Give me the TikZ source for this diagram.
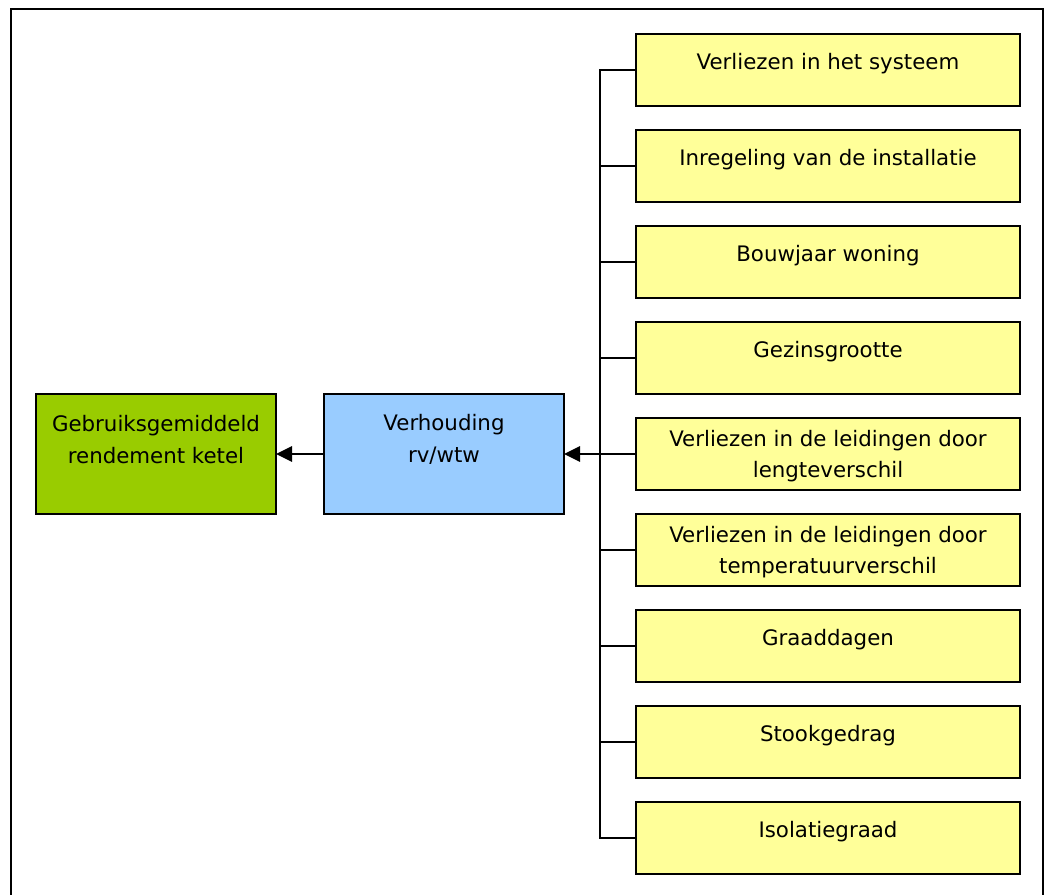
\documentclass[tikz,border=0pt]{standalone}
\usepackage{fontspec}
\setmainfont{DejaVu Sans}
\usetikzlibrary{arrows.meta}
\definecolor{ybox}{HTML}{FFFF99}
\definecolor{bbox}{HTML}{99CCFF}
\definecolor{gbox}{HTML}{99CC00}
\begin{document}
\begin{tikzpicture}[x=0.75pt,y=-0.75pt,
  box/.style={draw=black,line width=1.3pt,minimum width=384*0.75pt,minimum height=72*0.75pt,inner sep=0pt,outer sep=0pt,anchor=north west,fill=ybox},
  bigbox/.style={draw=black,line width=1.3pt,minimum width=240*0.75pt,minimum height=120*0.75pt,inner sep=0pt,outer sep=0pt,anchor=north west},
  txt/.style={font=\fontsize{16}{23.6}\selectfont,align=center,inner sep=0pt},
  conn/.style={line width=1.1pt,black},
  arr/.style={line width=1.3pt,-{Triangle[length=12pt,width=11.5pt]}}]
\useasboundingbox (0,0) rectangle (1050,894);
\draw[line width=1.5pt] (11,905) -- (11,9) -- (1043,9) -- (1043,905);
% left boxes
\node[bigbox,fill=gbox] (g) at (36,394) {};
\node[bigbox,fill=bbox] (b) at (324,394) {};
\node[txt] at (156,439.5) {Gebruiksgemiddeld\\rendement ketel};
\node[txt] at (444,439.5) {Verhouding\\rv/wtw};
% yellow boxes
\foreach \i/\t in {1/{Verliezen in het systeem},2/{Inregeling van de installatie},3/{Bouwjaar woning},4/{Gezinsgrootte},7/{Graaddagen},8/{Stookgedrag},9/{Isolatiegraad}}{
  \node[box] (y\i) at (636,{34+96*(\i-1)}) {};
  \node[txt] at (828,{64+96*(\i-1)}) {\t};
}
\node[box] (y5) at (636,418) {};
\node[txt] at (828,456) {Verliezen in de leidingen door\\lengteverschil};
\node[box] (y6) at (636,514) {};
\node[txt] at (828,552) {Verliezen in de leidingen door\\temperatuurverschil};
% bracket
\coordinate (mid) at (600,454);
\draw[conn] (y1.west) -- (y1.west -| mid) -- (y9.west -| mid) -- (y9.west);
\foreach \i in {2,...,8}{\draw[conn] (y\i.west) -- (y\i.west -| mid);}
\draw[arr] (y5.west -| mid) -- (b.east);
\draw[arr] (b.west) -- (g.east);
\end{tikzpicture}
\end{document}
